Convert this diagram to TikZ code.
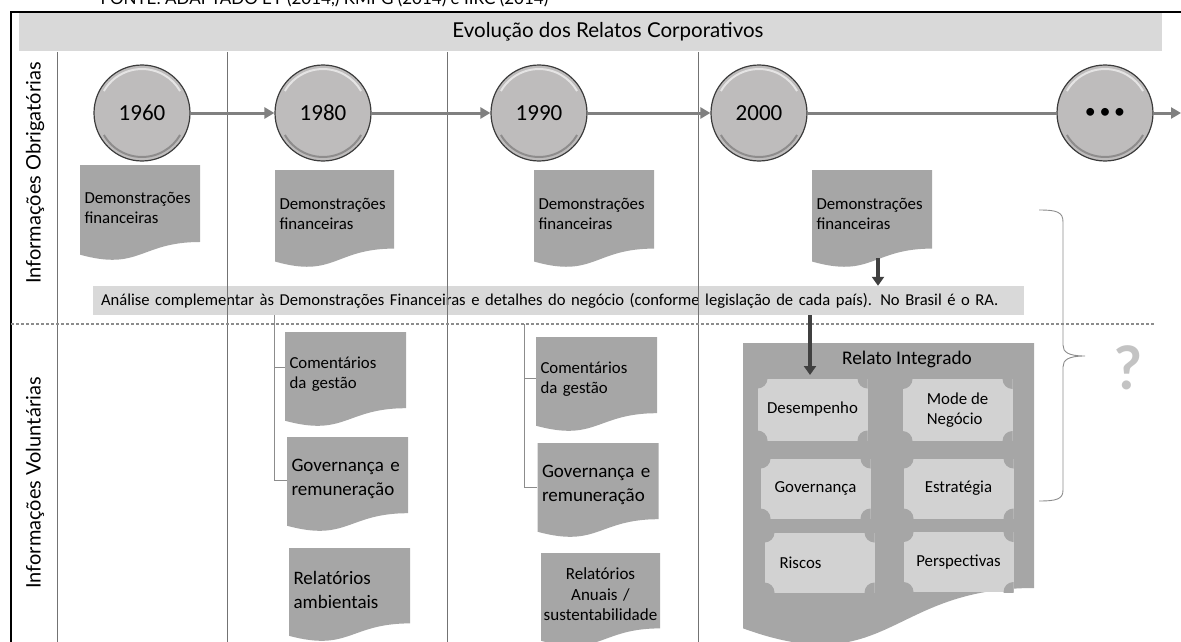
\documentclass[tikz,border=0pt]{standalone}
\usepackage{fontspec}
\setmainfont{Carlito}
\newfontfamily\gillfont{Lato}
\usepackage{tikz}
\usetikzlibrary{arrows.meta, positioning, calc}
\definecolor{bandgray}{RGB}{217,217,217}
\definecolor{docgray}{RGB}{166,166,166}
\definecolor{plaquegray}{RGB}{210,210,210}
\definecolor{circgray}{RGB}{190,188,188}
\definecolor{circedge}{RGB}{60,60,60}
\definecolor{linegray}{RGB}{115,115,115}
\definecolor{arrowgray}{RGB}{128,128,128}
\definecolor{darkarrow}{RGB}{64,64,64}
\definecolor{dotgray}{RGB}{140,140,140}
\definecolor{qgray}{RGB}{195,195,195}
\newcommand{\pxfont}[2]{\fontsize{#1}{#2}\selectfont}

\begin{document}
\begin{tikzpicture}[
    x=1pt, y=-1pt,
    gill/.style={font=\gillfont},
    year/.style={circle, minimum size=96pt, inner sep=0pt, fill=circgray, draw=circedge, line width=1.2pt, font=\pxfont{23}{26},
        path picture={
            \draw[white, opacity=.6, line width=2pt] (path picture bounding box.center) ++(150:44pt) arc (150:30:44pt);
            \draw[black, opacity=.25, line width=2pt] (path picture bounding box.center) ++(210:44pt) arc (210:330:44pt);
        }},
    docbox/.style 2 args={minimum width=#1, minimum height=#2, text width=#1-9pt, inner sep=0pt, fill=white, align=left,
        font=\pxfont{16.8}{20}, execute at end node={\endgraf\vspace*{11pt}},
        path picture={
            \fill[docgray] let \p1=(path picture bounding box.south west), \p2=(path picture bounding box.north east), \n1={\y2-\y1} in
                (\x1,\y2) -- (\x2,\y2) -- (\x2,{\y2-0.802*\n1})
                .. controls ({0.5*\x1+0.5*\x2},{\y2-0.802*\n1}) and ({0.5*\x1+0.5*\x2},{\y2-1.1075*\n1}) .. (\x1,{\y2-0.934*\n1}) -- cycle;
        }},
    bigtext/.style={font=\pxfont{19}{24}},
    plaque/.style={minimum width=110pt, minimum height=62pt, inner sep=0pt, fill=plaquegray, align=left, font=\pxfont{16.8}{20},
        path picture={
            \fill[docgray] (path picture bounding box.north west) circle (10pt) (path picture bounding box.north east) circle (10pt)
                (path picture bounding box.south west) circle (10pt) (path picture bounding box.south east) circle (10pt);
        }},
    timearrow/.style={-{Triangle[length=10pt, width=11pt]}, line width=3pt, draw=arrowgray},
    timeline/.style={line width=3pt, draw=arrowgray},
    bigarrow/.style={-{Triangle[length=9pt, width=12pt]}, line width=3.5pt, draw=darkarrow},
    bracket/.style={draw=dotgray, line width=0.9pt},
    colline/.style={draw=linegray, line width=0.9pt},
    dotline/.style={draw=dotgray, line width=2.5pt, dash pattern=on 2.5pt off 2.5pt}
]
\useasboundingbox (0,0) rectangle (1181,642);
\clip (0,0) rectangle (1181,642);

% Source line and frame
\node[gill, anchor=base west, font=\gillfont\pxfont{17}{20}] (fonte) at (97,5) {FONTE: ADAPTADO EY (2014,) KMPG (2014) e IIRC (2014)};
\draw[black, line width=2pt] (10.5,642) -- (10.5,12) -- (1181,12);

% Header
\node[fill=bandgray, minimum width=1143pt, minimum height=38pt, inner sep=0pt] (header) at (590.5,32) {};
\node[gill, font=\gillfont\pxfont{20.5}{22}] (title) at (608,32) {Evolução dos Relatos Corporativos};

% Row labels
\node[gill, rotate=90, font=\gillfont\pxfont{20}{22}] (obrig) at (35,173) {Informações Obrigatórias};
\node[gill, rotate=90, font=\gillfont\pxfont{20}{22}] (volunt) at (35,483) {Informações Voluntárias};

% Analysis band
\node[fill=bandgray, minimum width=931pt, minimum height=29pt, text width=915pt, inner xsep=8pt, inner ysep=0pt, align=left,
    font=\pxfont{16.6}{20}] (band) at (558.5,300.5)
    {Análise complementar às Demonstrações Financeiras e detalhes do negócio (conforme legislação de cada país). No Brasil é o RA.};

% Column lines
\foreach \x in {57,227,447,698}
    \draw[colline] (\x,52) -- (\x,642);
\draw[dotline] (11,324) -- (1155,324);

% Timeline
\node[year] (y1960) at (142,113) {1960};
\node[year] (y1980) at (323,113) {1980};
\node[year] (y1990) at (539,113) {1990};
\node[year] (y2000) at (759,113) {2000};
\node[year, font=\pxfont{22}{26}] (ymore) at (1105,113) {\textbullet\,\textbullet\,\textbullet};
\coordinate (tl-end) at (1181,113);

% Mandatory statements
\node[docbox={120pt}{96pt}] (dem1960) at (140,213) {Demonstrações\\financeiras};
\node[docbox={119pt}{98pt}] (dem1980) at (334.5,219) {Demonstrações\\financeiras};
\node[docbox={120pt}{98pt}] (dem1990) at (594,219) {Demonstrações\\financeiras};
\node[docbox={120pt}{98pt}] (dem2000) at (872,219) {Demonstrações\\financeiras};

% Voluntary reports
\node[docbox={121pt}{95pt}] (com1980) at (345.5,379.5) {Comentários\\da gestão};
\node[docbox={121pt}{95pt}, bigtext] (gov1980) at (347.5,484.5) {Governança e\\remuneração};
\node[docbox={121pt}{94pt}, bigtext] (rel1980) at (349.5,595) {Relatórios\\ambientais};
\node[docbox={121pt}{95pt}] (com1990) at (596.5,384.5) {Comentários\\da gestão};
\node[docbox={121pt}{95pt}, bigtext] (gov1990) at (598,490.5) {Governança e\\remuneração};
\node[docbox={119pt}{94pt}, text width=119pt, align=center, font=\pxfont{17}{20.5}] (rel1990) at (600.5,600) {Relatórios\\Anuais /\\sustentabilidade};

% Integrated report
\node[docbox={291pt}{305.5pt}] (relato) at (888.5,495.75) {};
\node[font=\pxfont{19.3}{23}] (ri-title) at (907,359) {Relato Integrado};
\node[plaque] (desemp) at (812.5,409.5) {Desempenho};
\node[plaque] (modelo) at (957.5,410) {Mode de\\Negócio};
\node[plaque, minimum height=60pt] (govern) at (815.5,488.5) {Governança};
\node[plaque, minimum height=60pt] (estrat) at (958.5,488.5) {Estratégia};
\node[plaque, minimum height=60pt, text width=80pt] (riscos) at (819.5,562.5) {Riscos};
\node[plaque, minimum height=60pt] (perspec) at (958.5,562) {Perspectivas};
\coordinate (ri-in) at (810,375);

% Question
\node[gill, font=\gillfont\bfseries\pxfont{60}{60}, text=qgray] (qmark) at (1128,368) {?};

% Arrows
\draw[timearrow] (y1960) -- (y1980);
\draw[timearrow] (y1980) -- (y1990);
\draw[timearrow] (y1990) -- (y2000);
\draw[timeline] (y2000) -- (ymore);
\draw[timearrow] (ymore) -- (tl-end);
\draw[bigarrow] ([xshift=6pt, yshift=10pt]dem2000.south) -- ([xshift=6pt]dem2000.south |- band.north);
\draw[bigarrow] (band.south -| ri-in) -- (ri-in);

% Brackets
\coordinate (br1) at (274,0);
\coordinate (br2) at (524,324);
\draw[bracket] (band.south -| br1) |- ([yshift=12pt]com1980.west);
\draw[bracket] (band.south -| br1) |- ([yshift=4.5pt]gov1980.west);
\draw[bracket] (br2) |- ([yshift=6.5pt]com1990.west);
\draw[bracket] (br2) |- ([yshift=3.5pt]gov1990.west);

% Brace
\draw[bracket] (1039,210) .. controls (1057,210) and (1063,212) .. (1063,222) -- (1063,345)
    .. controls (1063,352) and (1068,356) .. (1085,356)
    .. controls (1068,356) and (1063,360) .. (1063,367) -- (1063,490)
    .. controls (1063,499) and (1057,501) .. (1039,501);

\end{tikzpicture}
\end{document}
